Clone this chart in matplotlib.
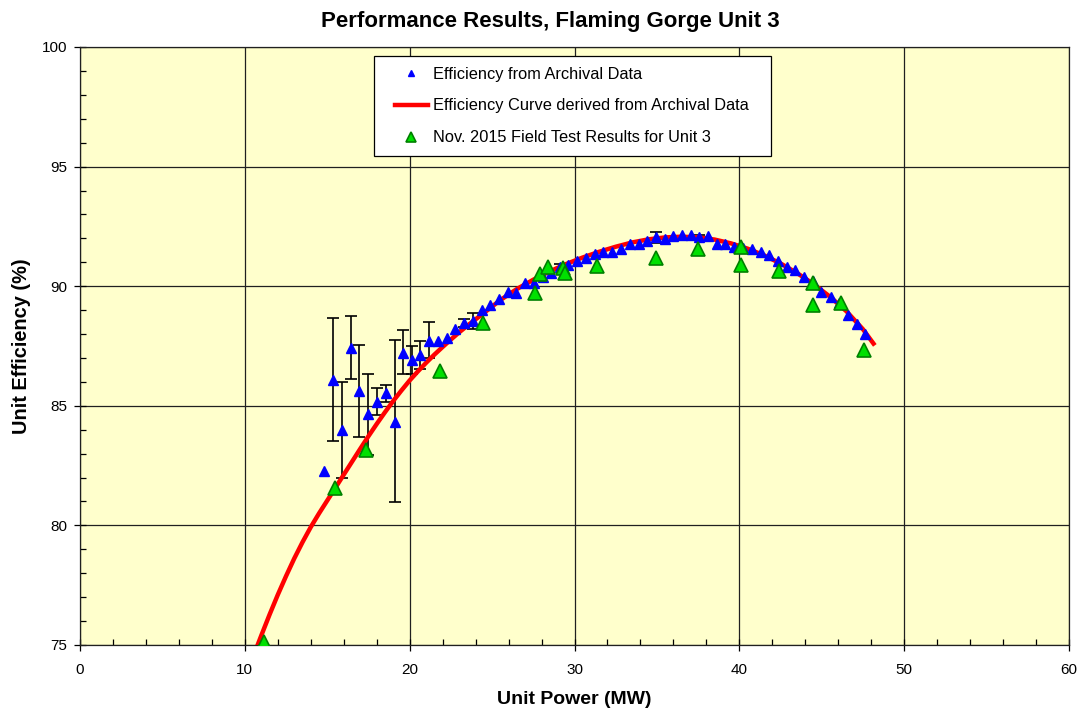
import numpy as np
import matplotlib
matplotlib.use("Agg")
from matplotlib import pyplot as plt
from matplotlib.ticker import MultipleLocator
from matplotlib.patches import Rectangle

plt.rcParams['font.family'] = ['Liberation Sans', 'DejaVu Sans']

# archival data (blue triangles)
arch_x = [14.82, 15.35, 15.88, 16.42, 16.95, 17.48, 18.02, 18.55, 19.09, 19.60,
          20.15, 20.65, 21.18, 21.70, 22.25, 22.78, 23.30, 23.83, 24.37, 24.90,
          25.42, 25.95, 26.47, 27.02, 27.55, 28.08, 28.60, 29.13, 29.63, 30.16,
          30.70, 31.23, 31.75, 32.30, 32.83, 33.37, 33.90, 34.42, 34.95, 35.48,
          36.00, 36.53, 37.06, 37.58, 38.10, 38.63, 39.16, 39.68, 40.21, 40.78,
          41.30, 41.83, 42.35, 42.88, 43.40, 43.93, 44.45, 44.97, 45.55, 46.07,
          46.58, 47.12, 47.65]
arch_y = [82.27, 86.08, 83.99, 87.43, 85.61, 84.64, 85.17, 85.52, 84.34, 87.22,
          86.91, 87.11, 87.72, 87.70, 87.85, 88.22, 88.46, 88.56, 89.00, 89.21,
          89.46, 89.75, 89.70, 90.12, 90.12, 90.40, 90.55, 90.82, 90.89, 91.05,
          91.19, 91.33, 91.42, 91.44, 91.54, 91.75, 91.76, 91.89, 92.04, 91.97,
          92.10, 92.14, 92.14, 92.07, 92.11, 91.75, 91.76, 91.62, 91.60, 91.54,
          91.44, 91.31, 91.07, 90.80, 90.66, 90.38, 90.20, 89.77, 89.56, 89.30,
          88.80, 88.42, 88.00]

# error bars on some of the archival points (top / bottom ends)
err_x   = [15.35, 15.88, 16.42, 16.95, 17.48, 18.02, 18.55, 19.09, 19.60, 20.15,
           20.65, 21.18, 23.30, 23.83, 29.13, 34.95, 37.58]
err_top = [88.66, 85.98, 88.77, 87.54, 86.32, 85.76, 85.87, 87.75, 88.17, 87.51,
           87.71, 88.49, 88.63, 88.87, 90.92, 92.28, 92.14]
err_bot = [83.54, 82.00, 86.11, 83.68, 82.96, 84.62, 85.17, 80.96, 86.32, 86.31,
           86.54, 86.99, 88.31, 88.21, 90.72, 91.79, 92.00]

# efficiency curve (red)
curve_x = [10.62, 11.0, 11.5, 12.0, 12.5, 13.0, 13.5, 14.0, 14.5, 15.0,
           15.5, 16.0, 16.5, 17.0, 17.5, 18.0, 18.5, 19.0, 19.5, 20.0,
           20.5, 21.0, 21.5, 22.0, 22.5, 23.0, 23.5, 24.5, 25.5, 26.5,
           27.5, 28.5, 29.5, 30.5, 31.5, 32.5, 33.5, 34.5, 35.5, 36.5,
           37.5, 38.5, 39.5, 40.5, 41.5, 42.5, 43.5, 44.5, 45.5, 46.5,
           47.5, 48.14]
curve_y = [74.72, 75.40, 76.27, 77.10, 77.88, 78.62, 79.30, 79.93, 80.50, 81.04,
           81.58, 82.12, 82.66, 83.20, 83.73, 84.24, 84.73, 85.20, 85.64, 86.06,
           86.44, 86.80, 87.14, 87.46, 87.77, 88.07, 88.35, 88.88, 89.42, 89.88,
           90.27, 90.62, 90.93, 91.20, 91.44, 91.65, 91.83, 91.96, 92.04, 92.07,
           92.04, 91.95, 91.79, 91.57, 91.29, 90.95, 90.55, 90.09, 89.56, 88.95,
           88.20, 87.60]

# Nov. 2015 field test (green triangles)
test_x = [11.15, 15.45, 17.33, 21.87, 24.44, 27.61, 27.91, 28.42, 29.29, 29.45,
          31.35, 34.95, 37.52, 40.09, 40.09, 42.43, 44.46, 44.46, 46.16, 47.57]
test_y = [75.14, 81.55, 83.15, 86.47, 88.45, 89.73, 90.51, 90.82, 90.75, 90.57,
          90.84, 91.19, 91.54, 91.65, 90.89, 90.65, 90.15, 89.21, 89.31, 87.33]

W, H = 1081, 715
fig = plt.figure(figsize=(W / 100, H / 100), dpi=100)
ax = fig.add_axes([80 / W, 1 - 645 / H, 989 / W, 598 / H])
ax.set_facecolor('#FFFFCC')

ax.set_xlim(0, 60)
ax.set_ylim(75, 100)
ax.xaxis.set_major_locator(MultipleLocator(10))
ax.xaxis.set_minor_locator(MultipleLocator(2))
ax.yaxis.set_major_locator(MultipleLocator(5))
ax.yaxis.set_minor_locator(MultipleLocator(1))
ax.grid(True, which='major', color='#202020', linewidth=0.9, zorder=0)
ax.set_axisbelow(True)
ax.tick_params(which='major', direction='inout', length=8, width=0.9, labelsize=11)
ax.tick_params(axis='y', which='major', pad=5)
ax.tick_params(axis='x', which='major', pad=9)
ax.tick_params(which='minor', direction='in', length=4, width=0.9)
for s in ax.spines.values():
    s.set_linewidth(0.9)
    s.set_color('#202020')

err_mid = [(t + b) / 2 for t, b in zip(err_top, err_bot)]
err_half = [(t - b) / 2 for t, b in zip(err_top, err_bot)]
ax.errorbar(err_x, err_mid, yerr=err_half, fmt='none', ecolor='black',
            elinewidth=1.2, capsize=4, capthick=1.2, zorder=2)

ax.plot(curve_x, curve_y, color='#FF0000', linewidth=3.2, zorder=3,
        label='Efficiency Curve derived from Archival Data')
ax.plot(arch_x, arch_y, linestyle='none', marker='^', markersize=7,
        color='#0000FF', markeredgecolor='#0000FF', zorder=4,
        label='Efficiency from Archival Data')
ax.plot(test_x, test_y, linestyle='none', marker='^', markersize=10.5,
        markerfacecolor='#00E000', markeredgecolor='#008000', markeredgewidth=1.2,
        zorder=5, label='Nov. 2015 Field Test Results for Unit 3')

# legend box drawn by hand so the padding matches
ax.add_patch(Rectangle((0.2973, 0.8177), 0.4014, 0.1673, transform=ax.transAxes,
                       facecolor='white', edgecolor='black', linewidth=0.9,
                       zorder=6))
h, l = ax.get_legend_handles_labels()
order = [1, 0, 2]
leg = ax.legend([h[i] for i in order], [l[i] for i in order],
                loc='upper left', bbox_to_anchor=(0.3185, 0.9673), fontsize=11.8,
                frameon=False, labelspacing=1.03, handlelength=2.0,
                handletextpad=0.3, borderpad=0, borderaxespad=0,
                markerscale=0.7)
leg.set_zorder(7)

ax.set_xlabel('Unit Power (MW)', fontsize=14, fontweight='bold')
ax.xaxis.set_label_coords(0.5, -(691 - 645) / 598)
ax.set_ylabel('Unit Efficiency (%)', fontsize=14.4, fontweight='bold')
ax.yaxis.set_label_coords(-(80 - 31) / 989, 0.5)
fig.text(550 / W, 1 - 27 / H, 'Performance Results, Flaming Gorge Unit 3',
         ha='center', va='baseline', fontsize=16, fontweight='bold')

fig.savefig('out.png', dpi=100, facecolor='white')
